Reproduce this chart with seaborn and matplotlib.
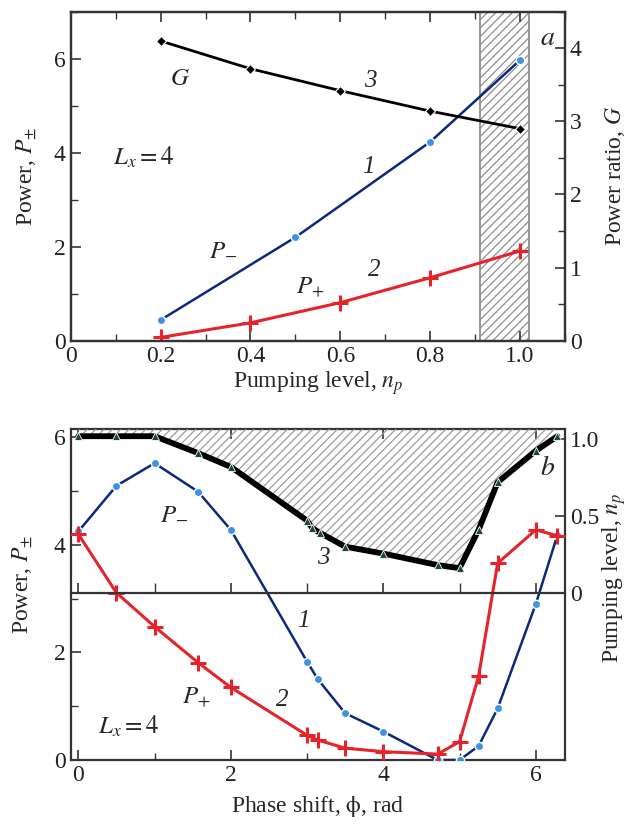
import numpy as np
import matplotlib
matplotlib.use("Agg")
import matplotlib.pyplot as plt
from matplotlib.ticker import MultipleLocator
import seaborn as sns

sns.set_theme(style="ticks")
plt.rcParams['font.family'] = ['Liberation Serif', 'DejaVu Serif']
plt.rcParams['mathtext.fontset'] = 'stix'
plt.rcParams['font.size'] = 16
plt.rcParams['hatch.linewidth'] = 0.9

# --- panel a: power vs pumping level ---
np_G = [0.2, 0.4, 0.6, 0.8, 1.0]
G_ratio = [4.10, 3.72, 3.42, 3.14, 2.90]
np_minus = [0.2, 0.5, 0.8, 1.0]
P_minus_a = [0.44, 2.20, 4.23, 5.97]
np_plus = [0.2, 0.4, 0.6, 0.8, 1.0]
P_plus_a = [0.07, 0.38, 0.81, 1.34, 1.91]
band_a = (0.91, 1.02)

# --- panel b: power vs phase shift ---
phi = [0.0, 0.5, 1.0, 1.571, 2.0, 3.0, 3.142, 3.5, 4.0, 4.712, 5.0, 5.25, 5.5, 6.0, 6.283]
P_minus_b = [4.25, 5.10, 5.52, 4.99, 4.28, 1.83, 1.50, 0.87, 0.53, 0.0, 0.0, 0.26, 0.96, 2.90, 4.18]
P_plus_b = [4.20, 3.11, 2.48, 1.81, 1.35, 0.46, 0.37, 0.22, 0.155, 0.11, 0.34, 1.56, 3.66, 4.28, 4.17]
phi_th = [0.0, 0.5, 1.0, 1.571, 2.0, 3.0, 3.07, 3.17, 3.5, 4.0, 4.712, 5.0, 5.25, 5.5, 6.0, 6.283]
np_th = [1.02, 1.02, 1.02, 0.91, 0.82, 0.47, 0.42, 0.39, 0.30, 0.255, 0.18, 0.16, 0.41, 0.72, 0.925, 1.02]

NAVY = '#0c2a78'
LBLUE = '#3f93e6'
RED = '#e5232b'
GREEN = '#1d4a2a'
SPINE = '#333333'

W, H = 640, 827
fig = plt.figure(figsize=(W / 100, H / 100), dpi=100)


def frac(l, t, r, b):
    return [l / W, 1 - b / H, (r - l) / W, (b - t) / H]


def style_spines(ax):
    for s in ax.spines.values():
        s.set_color(SPINE)
        s.set_linewidth(1.6)


# ================= panel a =================
ax1 = fig.add_axes(frac(70.7, 11.7, 565, 340.7))
ax1r = ax1.twinx()

ax1.axvspan(*band_a, facecolor='none', hatch='////', edgecolor='#8f8f8f', lw=1.3, zorder=0)

sns.lineplot(x=np_minus, y=P_minus_a, ax=ax1, color=NAVY, lw=1.8, marker='o', ms=6,
             markerfacecolor=LBLUE, markeredgecolor='white', markeredgewidth=1.0, zorder=3)
sns.lineplot(x=np_plus, y=P_plus_a, ax=ax1, color=RED, lw=2.2, marker='+', ms=11,
             markeredgecolor=RED, markeredgewidth=2.2, zorder=3)
sns.lineplot(x=np_G, y=G_ratio, ax=ax1r, color='black', lw=2.0, marker='D', ms=5,
             markerfacecolor='black', markeredgecolor='white', markeredgewidth=0.8, zorder=3)

ax1.set_xlim(0, 1.10)
ax1.set_ylim(0, 7)
ax1r.set_ylim(0, 4.5)
ax1.set_xticks([0, 0.2, 0.4, 0.6, 0.8, 1.0])
ax1.set_xticklabels(['0', '0.2', '0.4', '0.6', '0.8', '1.0'])
ax1.xaxis.set_minor_locator(MultipleLocator(0.1))
ax1.set_yticks([0, 2, 4, 6])
ax1.yaxis.set_minor_locator(MultipleLocator(1))
ax1r.set_yticks([0, 1, 2, 3, 4])
ax1r.yaxis.set_minor_locator(MultipleLocator(0.5))
ax1.tick_params(axis='both', which='both', direction='in', top=True, colors=SPINE,
                labelcolor='#222222', labelsize=17)
ax1.tick_params(which='major', length=7, width=1.2)
ax1.tick_params(which='minor', length=5, width=1.0)
ax1r.tick_params(axis='y', which='both', direction='in', colors=SPINE, labelcolor='#222222',
                 labelsize=17)
ax1r.tick_params(which='major', length=7, width=1.2)
ax1r.tick_params(which='minor', length=5, width=1.0)
ax1.set_xlabel('Pumping level, $n_p$', fontsize=17, labelpad=2)
ax1.set_ylabel('Power, $P_{\\pm}$', fontsize=17, labelpad=11)
ax1r.set_ylabel('Power ratio, $G$', fontsize=17, labelpad=15)
style_spines(ax1)
style_spines(ax1r)

ax1.text(0.243, 5.56, '$G$', ha='center', va='center', fontsize=18)
ax1.text(0.666, 5.53, '3', ha='center', va='center', fontsize=18, style='italic')
ax1.text(0.161, 3.90, '$L_x = 4$', ha='center', va='center', fontsize=18)
ax1.text(0.662, 3.69, '1', ha='center', va='center', fontsize=18, style='italic')
ax1.text(0.339, 1.96, '$P_{-}$', ha='center', va='center', fontsize=18)
ax1.text(0.676, 1.50, '2', ha='center', va='center', fontsize=18, style='italic')
ax1.text(0.534, 1.14, '$P_{+}$', ha='center', va='center', fontsize=18)
ax1.text(1.062, 6.44, '$a$', ha='center', va='center', fontsize=20)

# ================= panel b =================
ax2 = fig.add_axes(frac(70.7, 429.3, 565, 760))
ax2t = fig.add_axes(frac(70.7, 429.3, 565, 592.7), sharex=ax2)
ax2t.patch.set_alpha(0)

ax2t.set_ylim(0, 1.065)
ax2t.fill_between(phi_th, np_th, ax2t.get_ylim()[1], facecolor='none', hatch='////',
                  edgecolor='#9d9d9d', lw=0, zorder=0)
sns.lineplot(x=phi_th, y=np_th, ax=ax2t, color='black', lw=4.2, marker='^', ms=6,
             markerfacecolor=GREEN, markeredgecolor='white', markeredgewidth=0.6, zorder=3)

sns.lineplot(x=phi, y=P_minus_b, ax=ax2, color=NAVY, lw=1.8, marker='o', ms=6,
             markerfacecolor=LBLUE, markeredgecolor='white', markeredgewidth=1.0, zorder=3)
sns.lineplot(x=phi, y=P_plus_b, ax=ax2, color=RED, lw=2.2, marker='+', ms=11,
             markeredgecolor=RED, markeredgewidth=2.2, zorder=3)

ax2.set_xlim(-0.1, 2 * np.pi + 0.1)
ax2.set_ylim(0, 6.15)
ax2.set_xticks([0, 2, 4, 6])
ax2.xaxis.set_minor_locator(MultipleLocator(1))
ax2.set_yticks([0, 2, 4, 6])
ax2.yaxis.set_minor_locator(MultipleLocator(1))
ax2.tick_params(axis='both', which='both', direction='in', colors=SPINE,
                labelcolor='#222222', labelsize=17)
ax2.tick_params(axis='x', which='major', top=True)
ax2.tick_params(which='major', length=7, width=1.2)
ax2.tick_params(which='minor', length=5, width=1.0)
ax2.set_xlabel('Phase shift, $\\mathrm{\\phi}$, rad', fontsize=17, labelpad=6)
ax2.set_ylabel('Power, $P_{\\pm}$', fontsize=17)
ax2.yaxis.set_label_coords(-0.072, 0.53)
style_spines(ax2)

# upper overlay: pumping level axis with its own baseline at n_p = 0
style_spines(ax2t)
for s in ['top', 'left', 'right']:
    ax2t.spines[s].set_visible(False)
ax2t.yaxis.tick_right()
ax2t.yaxis.set_label_position('right')
ax2t.set_yticks([0, 0.5, 1.0])
ax2t.set_yticklabels(['0', '0.5', '1.0'])
ax2t.tick_params(axis='y', which='both', direction='in', colors=SPINE, labelcolor='#222222',
                 labelsize=17, length=7, width=1.2)
ax2t.tick_params(axis='x', which='both', direction='in', labelbottom=False, colors=SPINE)
ax2t.tick_params(axis='x', which='major', length=7, width=1.2)
ax2t.tick_params(axis='x', which='minor', length=7, width=1.0)
ax2t.set_xlabel('')
ax2t.set_ylabel('Pumping level, $n_p$', fontsize=17, va='center')
ax2t.yaxis.set_label_coords(1.10, 0.09)

ax2.text(1.25, 4.59, '$P_{-}$', ha='center', va='center', fontsize=18)
ax2.text(3.21, 3.76, '3', ha='center', va='center', fontsize=18, style='italic')
ax2.text(6.15, 5.43, '$b$', ha='center', va='center', fontsize=20)
ax2.text(2.95, 2.58, '1', ha='center', va='center', fontsize=18, style='italic')
ax2.text(1.55, 1.18, '$P_{+}$', ha='center', va='center', fontsize=18)
ax2.text(2.67, 1.12, '2', ha='center', va='center', fontsize=18, style='italic')
ax2.text(0.66, 0.62, '$L_x = 4$', ha='center', va='center', fontsize=18)

fig.savefig('out.png', dpi=100)
